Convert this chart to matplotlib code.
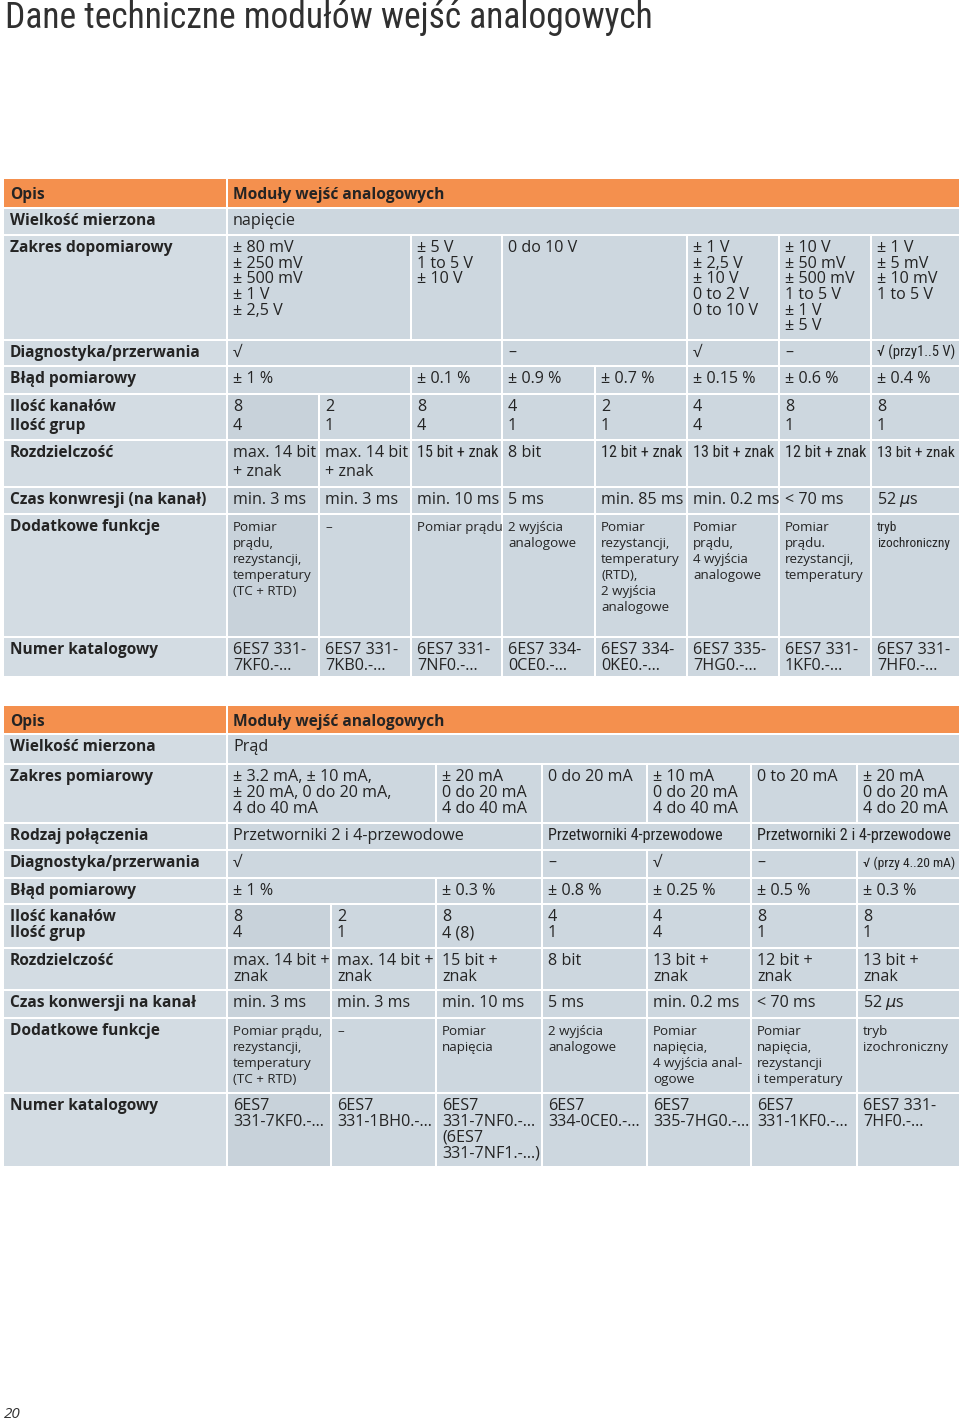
import matplotlib
matplotlib.use("Agg")
import matplotlib.pyplot as plt
from matplotlib.patches import Rectangle
from matplotlib import font_manager

title = "Dane techniczne modułów wejść analogowych"
page_no = "20"

# tabela 1 - napiecie
t1_labels = ["Opis", "Wielkość mierzona", "Zakres dopomiarowy", "Diagnostyka/przerwania",
             "Błąd pomiarowy", "Ilość kanałów\nIlość grup", "Rozdzielczość",
             "Czas konwresji (na kanał)", "Dodatkowe funkcje", "Numer katalogowy"]
t1_zakres = ["± 80 mV\n± 250 mV\n± 500 mV\n± 1 V\n± 2,5 V", "± 5 V\n1 to 5 V\n± 10 V", "0 do 10 V",
             "± 1 V\n± 2,5 V\n± 10 V\n0 to 2 V\n0 to 10 V",
             "± 10 V\n± 50 mV\n± 500 mV\n1 to 5 V\n± 1 V\n± 5 V", "± 1 V\n± 5 mV\n± 10 mV\n1 to 5 V"]
t1_diag = ["√", "–", "√", "–", "√ (przy1..5 V)"]
t1_blad = ["± 1 %", "± 0.1 %", "± 0.9 %", "± 0.7 %", "± 0.15 %", "± 0.6 %", "± 0.4 %"]
t1_kanaly = ["8\n4", "2\n1", "8\n4", "4\n1", "2\n1", "4\n4", "8\n1", "8\n1"]
t1_rozdz = ["max. 14 bit\n+ znak", "max. 14 bit\n+ znak", "15 bit + znak", "8 bit",
            "12 bit + znak", "13 bit + znak", "12 bit + znak", "13 bit + znak"]
t1_czas = ["min. 3 ms", "min. 3 ms", "min. 10 ms", "5 ms", "min. 85 ms", "min. 0.2 ms",
           "< 70 ms", "52 $\\mu$s"]
t1_funkcje = ["Pomiar\nprądu,\nrezystancji,\ntemperatury\n(TC + RTD)", "–", "Pomiar prądu",
              "2 wyjścia\nanalogowe",
              "Pomiar\nrezystancji,\ntemperatury\n(RTD),\n2 wyjścia\nanalogowe",
              "Pomiar\nprądu,\n4 wyjścia\nanalogowe", "Pomiar\nprądu.\nrezystancji,\ntemperatury",
              "tryb\nizochroniczny"]
t1_numer = ["6ES7 331-\n7KF0.-...", "6ES7 331-\n7KB0.-...", "6ES7 331-\n7NF0.-...",
            "6ES7 334-\n0CE0.-...", "6ES7 334-\n0KE0.-...", "6ES7 335-\n7HG0.-...",
            "6ES7 331-\n1KF0.-...", "6ES7 331-\n7HF0.-..."]
t1_cells = [["Moduły wejść analogowych"], ["napięcie"], t1_zakres, t1_diag, t1_blad,
            t1_kanaly, t1_rozdz, t1_czas, t1_funkcje, t1_numer]
t1_spans = [[8], [8], [2, 1, 2, 1, 1, 1], [3, 2, 1, 1, 1], [2, 1, 1, 1, 1, 1, 1],
            [1] * 8, [1] * 8, [1] * 8, [1] * 8, [1] * 8]

# tabela 2 - prad
t2_labels = ["Opis", "Wielkość mierzona", "Zakres pomiarowy", "Rodzaj połączenia",
             "Diagnostyka/przerwania", "Błąd pomiarowy", "Ilość kanałów\nIlość grup",
             "Rozdzielczość", "Czas konwersji na kanał", "Dodatkowe funkcje", "Numer katalogowy"]
t2_zakres = ["± 3.2 mA, ± 10 mA,\n± 20 mA, 0 do 20 mA,\n4 do 40 mA", "± 20 mA\n0 do 20 mA\n4 do 40 mA",
             "0 do 20 mA", "± 10 mA\n0 do 20 mA\n4 do 40 mA", "0 to 20 mA",
             "± 20 mA\n0 do 20 mA\n4 do 20 mA"]
t2_polacz = ["Przetworniki 2 i 4-przewodowe", "Przetworniki 4-przewodowe",
             "Przetworniki 2 i 4-przewodowe"]
t2_diag = ["√", "–", "√", "–", "√ (przy 4..20 mA)"]
t2_blad = ["± 1 %", "± 0.3 %", "± 0.8 %", "± 0.25 %", "± 0.5 %", "± 0.3 %"]
t2_kanaly = ["8\n4", "2\n1", "8\n4 (8)", "4\n1", "4\n4", "8\n1", "8\n1"]
t2_rozdz = ["max. 14 bit +\nznak", "max. 14 bit +\nznak", "15 bit +\nznak", "8 bit",
            "13 bit +\nznak", "12 bit +\nznak", "13 bit +\nznak"]
t2_czas = ["min. 3 ms", "min. 3 ms", "min. 10 ms", "5 ms", "min. 0.2 ms", "< 70 ms", "52 $\\mu$s"]
t2_funkcje = ["Pomiar prądu,\nrezystancji,\ntemperatury\n(TC + RTD)", "–", "Pomiar\nnapięcia",
              "2 wyjścia\nanalogowe", "Pomiar\nnapięcia,\n4 wyjścia anal-\nogowe",
              "Pomiar\nnapięcia,\nrezystancji\ni temperatury", "tryb\nizochroniczny"]
t2_numer = ["6ES7\n331-7KF0.-...", "6ES7\n331-1BH0.-...", "6ES7\n331-7NF0.-...\n(6ES7\n331-7NF1.-...)",
            "6ES7\n334-0CE0.-...", "6ES7\n335-7HG0.-...", "6ES7\n331-1KF0.-...",
            "6ES7 331-\n7HF0.-..."]
t2_cells = [["Moduły wejść analogowych"], ["Prąd"], t2_zakres, t2_polacz, t2_diag, t2_blad,
            t2_kanaly, t2_rozdz, t2_czas, t2_funkcje, t2_numer]
t2_spans = [[7], [7], [2, 1, 1, 1, 1, 1], [3, 2, 2], [3, 1, 1, 1, 1], [2, 1, 1, 1, 1, 1],
            [1] * 7, [1] * 7, [1] * 7, [1] * 7, [1] * 7]

# layout (pixels)
t1_x = [4, 227, 319, 411, 502, 595, 687, 779, 871, 960]
t1_y = [178, 208, 235, 340, 366, 394, 440, 487, 514, 637, 677]
t1_kind = ["head", "body", "body", "body", "body", "body", "body", "body", "small", "body"]
t1_pitch = [16, 16, 15.7, 16, 16, 19, 19, 16, 16, 16]

t2_x = [4, 227, 331, 436, 542, 647, 751, 857, 960]
t2_y = [705, 734, 764, 823, 850, 878, 904, 948, 990, 1018, 1093, 1167]
t2_kind = ["head", "body", "body", "body", "body", "body", "body", "body", "body", "small", "body"]
t2_pitch = [16, 16, 16, 16, 16, 16, 16, 16, 16, 16, 15.7]

ORANGE = "#f4904e"
LABEL_BG = "#d3dce3"
CELL_BG = "#cdd7df"
DARK_BG = "#c8d2da"
TXT = "#242424"
RIGHT_LIMIT = 955

BODY = ["Open Sans", "DejaVu Sans"]
plt.rcParams["mathtext.fontset"] = "dejavusans"


# look for an installed condensed / narrow face
def find_narrow():
    order = ["Open Sans", "Noto Sans", "Roboto", "Liberation Sans", "DejaVu Sans"]
    best = None
    for f in font_manager.fontManager.ttflist:
        if f.style != "normal":
            continue
        w = f.weight if isinstance(f.weight, int) else font_manager.weight_dict.get(f.weight, 400)
        if w != 400:
            continue
        narrow = f.stretch in ("condensed", "semi-condensed", "extra-condensed") or \
            "Narrow" in f.name or "Condensed" in f.name
        if not narrow:
            continue
        rank = len(order)
        for i, o in enumerate(order):
            if f.name.startswith(o):
                rank = i
                break
        if best is None or rank < best[0]:
            best = (rank, f)
    if best is None:
        return None
    f = best[1]
    return {"family": [f.name, "DejaVu Sans"], "stretch": f.stretch}


NARROW = find_narrow()

BODY_SIZE = 11.6
LABEL_SIZE = 11.2
SMALL_SIZE = 9.6

fig = plt.figure(figsize=(9.6, 14.24), dpi=100)
ax = fig.add_axes([0, 0, 1, 1])
ax.set_xlim(0, 960)
ax.set_ylim(1424, 0)
ax.axis("off")
renderer = fig.canvas.get_renderer()


def widest(arts):
    return max(a.get_window_extent(renderer).width for a in arts)


def put_lines(x, y, text, size, pitch, weight="normal", maxw=None):
    arts = []
    for i, ln in enumerate(text.split("\n")):
        arts.append(ax.text(x, y + i * pitch, ln, fontsize=size, fontweight=weight,
                            family=BODY, color=TXT, va="baseline", ha="left"))
    if maxw:
        wid = widest(arts)
        if wid > maxw and NARROW:
            for a in arts:
                a.set_family(NARROW["family"])
                a.set_stretch(NARROW["stretch"])
            wid = widest(arts)
        if wid > maxw:
            for a in arts:
                a.set_fontsize(size * maxw / wid)
    return arts


def draw_table(xs, ys, labels, cells, spans, kinds, pitches, dark_from):
    for r, label in enumerate(labels):
        y0, y1 = ys[r], ys[r + 1]
        head = kinds[r] == "head"
        base = 21 if head else 17
        ax.add_patch(Rectangle((xs[0], y0 + 1), xs[1] - xs[0] - 1, y1 - y0 - 2,
                               color=ORANGE if head else LABEL_BG, lw=0))
        put_lines(xs[0] + 6, y0 + base, label, LABEL_SIZE, pitches[r], weight="bold")
        size = SMALL_SIZE if kinds[r] == "small" else BODY_SIZE
        c = 0
        for text, span in zip(cells[r], spans[r]):
            x0, x1 = xs[1 + c], xs[1 + c + span]
            if head:
                bg = ORANGE
            elif c == 0 and span == 1 and r >= dark_from:
                bg = DARK_BG
            else:
                bg = CELL_BG
            ax.add_patch(Rectangle((x0 + 1, y0 + 1), x1 - x0 - 2, y1 - y0 - 2, color=bg, lw=0))
            maxw = min(x1 - x0 - 3, RIGHT_LIMIT - (x0 + 6))
            put_lines(x0 + 6, y0 + base, text, LABEL_SIZE if head else size, pitches[r],
                      weight="bold" if head else "normal", maxw=maxw)
            c += span


# title
tt = ax.text(5, 28, title, fontsize=26, family=BODY, color="#303030",
             va="baseline", ha="left")
if NARROW:
    tt.set_family(NARROW["family"])
    tt.set_stretch(NARROW["stretch"])
tw = tt.get_window_extent(renderer).width
tt.set_fontsize(26 * 648 / tw)

draw_table(t1_x, t1_y, t1_labels, t1_cells, t1_spans, t1_kind, t1_pitch, 5)
draw_table(t2_x, t2_y, t2_labels, t2_cells, t2_spans, t2_kind, t2_pitch, 6)

ax.text(4, 1418, page_no, fontsize=11, style="italic", family=BODY, color="#333333",
        va="baseline", ha="left")

fig.savefig("out.png", dpi=100)
